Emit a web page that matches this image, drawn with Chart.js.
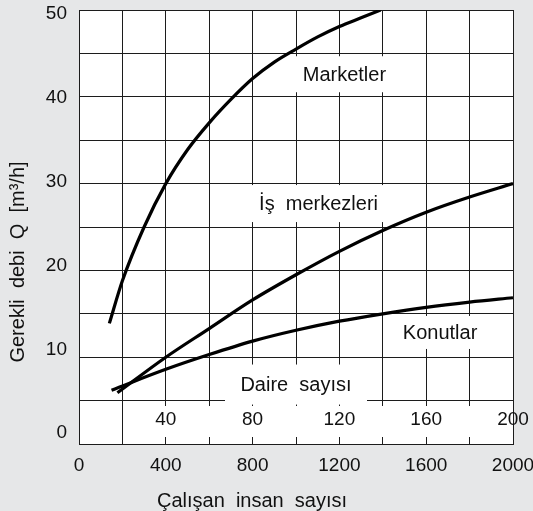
<!DOCTYPE html>
<html>
<head>
<meta charset="utf-8">
<script src="https://cdn.jsdelivr.net/npm/chart.js@4.4.1/dist/chart.umd.min.js"></script>
<style>
  html, body { margin: 0; padding: 0; background: #e6e7e8; }
  canvas { display: block; }
</style>
</head>
<body>
<canvas id="debiChart" width="533" height="511"></canvas>
<script>
// --- データ ---
const marketX = [140, 200, 300, 400, 500, 600, 700, 800, 900, 1000, 1100, 1200, 1300, 1390];
const marketQ = [13.9, 18.8, 25.0, 30, 33.9, 37, 39.7, 42.1, 44, 45.5, 46.9, 48.1, 49.1, 50];
const officeX = [177, 400, 600, 800, 1000, 1200, 1400, 1600, 1800, 2000];
const officeQ = [5.9, 10, 13.3, 16.6, 19.5, 22.2, 24.6, 26.7, 28.45, 30];
const homeX = [150, 400, 600, 800, 1000, 1200, 1400, 1600, 1800, 2000];
const homeQ = [6.2, 8.6, 10.3, 11.85, 13.1, 14.15, 15, 15.75, 16.35, 16.85];

const xTicks = [0, 400, 800, 1200, 1600, 2000];      // Çalışan insan sayısı
const flatTicks = [40, 80, 120, 160, 200];           // Daire sayısı
const yTicks = [0, 10, 20, 30, 40, 50];              // Gerekli debi Q

// --- 軸の範囲 ---
const xMax = 2000, yMax = 50, flatMax = 200;
const bandTop = 5;     // Daire sayısı 目盛りの帯
const bandFrom = 200;  // この位置の縦線だけは帯を貫く

// 図中のラベル (白い下地つき)
const notes = [
  { text: 'Marketler',       x: 1223, y: 42.6,  w: 100, h: 36 },
  { text: 'İş  merkezleri',  x: 1104, y: 27.7,  w: 143, h: 37 },
  { text: 'Konutlar',        x: 1664, y: 12.85, w: 85,  h: 33 },
  { text: 'Daire  sayısı',   x: 1000, y: 6.85,  w: 142, h: 40 }
];

const FONT = '"Liberation Sans", Arial, Helvetica, sans-serif';
const INK = '#111';
const GRID = '#1c1c1c';

const toPoints = (xs, ys) => xs.map((v, i) => ({ x: v, y: ys[i] }));

const curve = (label, xs, ys) => ({
  label,
  data: toPoints(xs, ys),
  borderColor: '#000',
  borderWidth: 3.2,
  pointRadius: 0,
  fill: false,
  cubicInterpolationMode: 'monotone'
});

// 背景・帯・ラベル・軸タイトル
const decorations = {
  id: 'decorations',
  beforeDraw(chart) {
    const { ctx, chartArea: a } = chart;
    ctx.save();
    ctx.fillStyle = '#fff';
    ctx.fillRect(a.left, a.top, a.right - a.left, a.bottom - a.top);
    ctx.restore();
  },
  beforeDatasetsDraw(chart) {
    const { ctx, scales: { x, y } } = chart;
    ctx.save();
    ctx.fillStyle = '#fff';
    // 帯: 縦線は上下の短い目盛りだけ残す
    const l = Math.round(x.getPixelForValue(bandFrom)) + 1;
    const r = Math.round(x.getPixelForValue(xMax)) - 1;
    const t = Math.round(y.getPixelForValue(bandTop)) + 5;
    const b = Math.round(y.getPixelForValue(0)) - 7;
    ctx.fillRect(l, t, r - l, b - t);
    notes.forEach(n => {
      const cx = x.getPixelForValue(n.x), cy = y.getPixelForValue(n.y);
      ctx.fillRect(cx - n.w / 2, cy - n.h / 2, n.w, n.h);
    });
    ctx.restore();
  },
  afterDraw(chart) {
    const { ctx, scales: { x, y } } = chart;
    ctx.save();
    ctx.fillStyle = INK;
    ctx.font = '20px ' + FONT;
    ctx.textAlign = 'center';
    ctx.textBaseline = 'middle';
    notes.forEach(n => {
      ctx.fillText(n.text, x.getPixelForValue(n.x), y.getPixelForValue(n.y) + 1);
    });
    ctx.textBaseline = 'alphabetic';
    ctx.fillText('Çalışan  insan  sayısı', 252, 507);
    ctx.translate(24, 262);
    ctx.rotate(-Math.PI / 2);
    ctx.fillText('Gerekli  debi  Q  [m³/h]', 0, 0);
    ctx.restore();
  }
};

new Chart(document.getElementById('debiChart'), {
  type: 'line',
  data: {
    datasets: [
      curve('Marketler', marketX, marketQ),
      curve('İş merkezleri', officeX, officeQ),
      curve('Konutlar', homeX, homeQ)
    ]
  },
  options: {
    responsive: false,
    animation: false,
    layout: { padding: { top: 10, left: 0, right: 0, bottom: 0 } },
    plugins: { legend: { display: false }, tooltip: { enabled: false } },
    scales: {
      x: {
        type: 'linear', position: 'bottom', min: 0, max: xMax,
        ticks: {
          stepSize: 200, autoSkip: false, maxRotation: 0, padding: 10,
          color: INK, font: { family: FONT, size: 19 },
          callback: v => (xTicks.includes(v) ? String(v) : '')
        },
        grid: { color: GRID, lineWidth: 1, drawTicks: false },
        border: { color: GRID, width: 1 },
        afterFit: s => { s.height = 67; s.paddingLeft = 0; s.paddingRight = 20; }
      },
      flats: {
        type: 'linear', axis: 'x', position: { y: bandTop }, min: 0, max: flatMax,
        ticks: {
          stepSize: 20, autoSkip: false, maxRotation: 0, padding: 8, z: 1,
          color: INK, font: { family: FONT, size: 19 },
          callback: v => (flatTicks.includes(v) ? String(v) : '')
        },
        grid: { display: false, drawTicks: false },
        border: { display: false },
        afterFit: s => { s.paddingLeft = 0; s.paddingRight = 0; }
      },
      y: {
        type: 'linear', position: 'left', min: 0, max: yMax, weight: 0,
        ticks: { stepSize: 5, display: false },
        grid: { color: GRID, lineWidth: 1, drawTicks: false },
        border: { color: GRID, width: 1 },
        afterFit: s => { s.width = 0; s.paddingTop = 0; s.paddingBottom = 0; }
      },
      // 目盛り文字だけの軸 (原図では文字が少し詰めて並んでいる)
      yLabels: {
        type: 'linear', position: 'left', min: -1.3, max: 50.5, weight: 1,
        afterBuildTicks: s => { s.ticks = yTicks.map(v => ({ value: v })); },
        ticks: { padding: 12, color: INK, font: { family: FONT, size: 19 } },
        grid: { display: false, drawTicks: false },
        border: { display: false },
        afterFit: s => { s.width = 79; s.paddingTop = 0; s.paddingBottom = 0; }
      }
    }
  },
  plugins: [decorations]
});
</script>
</body>
</html>
